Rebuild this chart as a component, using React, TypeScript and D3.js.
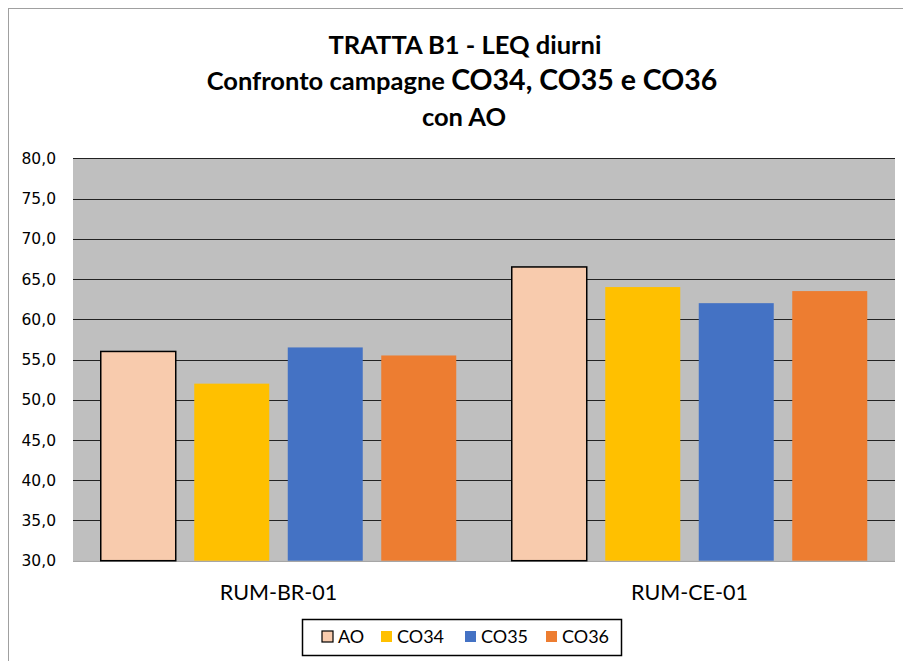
import { scaleBand, scaleLinear, range } from "d3";

const categories = ["RUM-BR-01", "RUM-CE-01"];
const seriesNames = ["AO", "CO34", "CO35", "CO36"];
const seriesColors = ["#F8CBAD", "#FFC000", "#4472C4", "#ED7D31"];
const aoValues = [56.0, 66.5];
const co34Values = [52.0, 64.0];
const co35Values = [56.5, 62.0];
const co36Values = [55.5, 63.5];
const yTicks = range(30, 80.1, 5);

const seriesValues = [aoValues, co34Values, co35Values, co36Values];

const width = 903;
const height = 661;
const plotLeft = 73;
const plotRight = 895;
const plotTop = 158.3;
const plotBottom = 560.7;
const font = "Lato, 'Open Sans', sans-serif";

export default function App() {
  const x0 = scaleBand().domain(categories).range([plotLeft, plotRight]);
  const pad = 27.75;
  const x1 = scaleBand()
    .domain(seriesNames)
    .range([pad, x0.bandwidth() - pad])
    .paddingInner(0.198);
  const y = scaleLinear().domain([30, 80]).range([plotBottom, plotTop]);

  const legendItems = [
    { x: 322, tx: 338 },
    { x: 381, tx: 397 },
    { x: 465, tx: 481 },
    { x: 546, tx: 562 },
  ];

  return (
    <svg
      width={width}
      height={height}
      style={{ position: "absolute", left: 0, top: 0, background: "white" }}>
      <rect x={8.5} y={8.5} width={width} height={height} fill="white" stroke="#a0a0a0" />

      <g fontFamily={font} fontWeight="700" fill="#000" textAnchor="middle">
        <text x={465} y={54} fontSize={25.5}>
          TRATTA B1 - LEQ diurni
        </text>
        <text x={462} y={90} fontSize={25.5}>
          Confronto campagne <tspan fontSize={28.5}>CO34, CO35 e CO36</tspan>
        </text>
        <text x={464} y={126} fontSize={25.5}>
          con AO
        </text>
      </g>

      <rect
        x={plotLeft}
        y={plotTop}
        width={plotRight - plotLeft}
        height={plotBottom - plotTop}
        fill="#BFBFBF"
      />
      {yTicks.map((t) => (
        <g key={t}>
          {t > 30 && (
            <line
              x1={plotLeft}
              x2={plotRight}
              y1={Math.round(y(t)) + 0.5}
              y2={Math.round(y(t)) + 0.5}
              stroke="#222"
              strokeWidth={1}
            />
          )}
          <text
            x={56}
            y={y(t)}
            dy="0.36em"
            textAnchor="end"
            fontFamily="'DejaVu Sans', sans-serif"
            fontSize={15.5}
            fill="#000">
            {t.toFixed(1).replace(".", ",")}
          </text>
        </g>
      ))}
      <line
        x1={plotLeft}
        x2={plotRight}
        y1={plotBottom + 0.5}
        y2={plotBottom + 0.5}
        stroke="#a6a6a6"
        strokeWidth={1.5}
      />

      {categories.map((c, ci) => (
        <g key={c} transform={`translate(${x0(c)},0)`}>
          {seriesNames.map((s, si) => {
            const v = seriesValues[si][ci];
            const isAO = s === "AO";
            return (
              <rect
                key={s}
                x={x1(s)}
                y={y(v)}
                width={x1.bandwidth()}
                height={y(30) - y(v)}
                fill={seriesColors[si]}
                stroke={isAO ? "#000" : "none"}
                strokeWidth={isAO ? 1.5 : 0}
              />
            );
          })}
          <text
            x={x0.bandwidth() / 2}
            y={600}
            textAnchor="middle"
            fontFamily={font}
            fontSize={21.5}
            fill="#000">
            {c}
          </text>
        </g>
      ))}

      <rect x={302.5} y={619.5} width={319} height={36} fill="white" stroke="#000" strokeWidth={1.5} />
      {seriesNames.map((s, i) => (
        <g key={s}>
          <rect
            x={legendItems[i].x}
            y={631}
            width={11}
            height={11}
            fill={seriesColors[i]}
            stroke={s === "AO" ? "#000" : "none"}
            strokeWidth={1.2}
          />
          <text x={legendItems[i].tx} y={643} fontFamily={font} fontSize={18} fill="#000">
            {s}
          </text>
        </g>
      ))}
    </svg>
  );
}
